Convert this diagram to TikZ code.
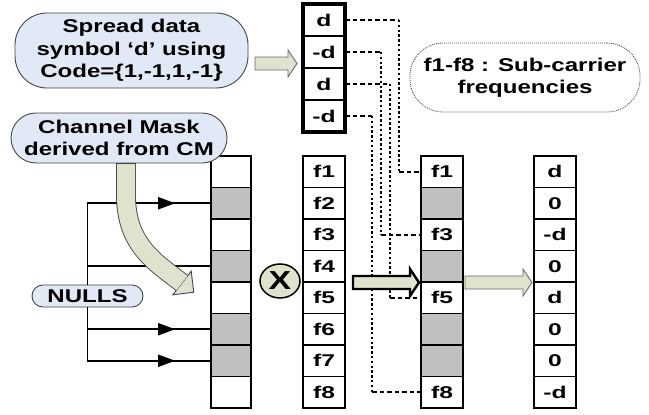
\documentclass[tikz,border=0pt]{standalone}
\usepackage{fontspec}
\setmainfont{Liberation Sans}
\newfontfamily\wf[FakeStretch=1.3]{Liberation Sans}
\newfontfamily\wcf[FakeStretch=1.45]{Liberation Sans}
\usetikzlibrary{arrows.meta,calc,shapes.geometric,decorations.markings}
\definecolor{bub}{RGB}{226,233,246}
\definecolor{oli}{RGB}{221,227,205}
\definecolor{grayc}{RGB}{192,192,192}
\definecolor{bord}{RGB}{70,70,70}
\newcommand\cellf{\wcf\bfseries\fontsize{17}{18}\selectfont}
\newcommand\bubf{\wf\bfseries\fontsize{18.5}{22.5}\selectfont}
\begin{document}
\begin{tikzpicture}[x=1pt,y=-1pt,
  cell/.style={draw, line width=1.8pt, minimum width=42pt, minimum height=31.5pt, inner sep=0pt, outer sep=0pt, anchor=north west, font=\cellf},
  gcell/.style={cell, fill=grayc},
  bubble/.style={draw=bord, line width=0.9pt, fill=bub, align=center, font=\bubf, inner sep=0pt},
  hdash/.style={line width=1.7pt, dash pattern=on 4.5pt off 3pt},
  vdot/.style={line width=2.6pt, dash pattern=on 2.4pt off 2.4pt},
  nline/.style={line width=1.8pt},
  nularrow/.style={nline, postaction={decorate}, decoration={markings, mark=at position 0.71 with {\arrow{Triangle[length=17pt,width=12pt]}}}},
  blockarrow/.style={fill=oli, draw=bord!80, line width=0.9pt, line join=miter},
]
\useasboundingbox[fill=white] (0,0) rectangle (649,415);

% columns
\foreach \i/\s in {1/cell,2/gcell,3/cell,4/gcell,5/cell,6/gcell,7/gcell,8/cell}
  \node[\s, minimum width=40pt] (m\i) at (211,{156+(\i-1)*31.5}) {};
\foreach \i in {1,...,8}
  \node[cell] (f\i) at (303,{156+(\i-1)*31.5}) {f\i};
\foreach \i/\s/\t in {1/cell/f1,2/gcell/{},3/cell/f3,4/gcell/{},5/cell/f5,6/gcell/{},7/gcell/{},8/cell/f8}
  \node[\s] (r\i) at (421,{156+(\i-1)*31.5}) {\t};
\foreach \i/\t in {1/d,2/0,3/-d,4/0,5/d,6/0,7/0,8/-d}
  \node[cell] (o\i) at (534,{156+(\i-1)*31.5}) {\t};
\foreach \i/\t in {1/d,2/-d,3/d,4/-d}
  \node[cell, minimum height=32pt] (c\i) at (303,{4+(\i-1)*32}) {\t};
\draw[line width=3.6pt] (c1.north west) rectangle (c4.south east);

% bubbles
\node[bubble, rounded corners=32pt, minimum width=233pt, minimum height=75pt] (spread) at (131.5,50.5) {Spread data\\symbol ‘d’ using\\Code=\{1,-1,1,-1\}};
\node[bubble, rounded corners=25pt, minimum width=216pt, minimum height=50pt] (mask) at (119,138) {Channel Mask\\derived from CM};
\node[bubble, rounded corners=11pt, minimum width=111pt, minimum height=22pt] (nul) at (87.5,296) {NULLS};
\node[draw=bord, dash pattern=on 1pt off 1pt, line width=0.8pt, rounded corners=33pt, minimum width=230pt, minimum height=69pt, align=center, font=\bubf] (note) at (525,77.5) {f1-f8 : Sub-carrier\\frequencies};

% NULLS lines
\draw[nline, line cap=rect] (nul.north) -- (nul.north |- m2.west);
\draw[nline, line cap=rect] (nul.south) -- (nul.south |- m7.west);
\foreach \i in {2,4,6,7}
  \draw[nularrow] (nul.north |- m\i.west) -- (m\i.west);

% curved arrow from channel mask
\draw[fill=oli, draw=bord, line width=0.9pt, line join=miter] (172.8,294.8) -- (193.8,292.2) -- (191.2,271.2) -- cycle;
\draw[line width=19.8pt, draw=bord] (126,163) -- (126,195) .. controls (126,245) and (155,262) .. (182,283);
\draw[line width=18pt, draw=oli] (126,164) -- (126,195) .. controls (126,245) and (155,262) .. (182,283);

% dashed connectors
\coordinate (x1) at (399,0);
\coordinate (x2) at (381,0);
\coordinate (x3) at (390,0);
\coordinate (x4) at (372,0);
\draw[hdash] (c1.east) -- (c1.east -| x1);
\draw[vdot] (c1.east -| x1) -- (r1.west -| x1);
\draw[hdash] (r1.west -| x1) -- (r1.west);
\draw[hdash] (c2.east) -- (c2.east -| x2);
\draw[vdot] (c2.east -| x2) -- (r3.west -| x2);
\draw[hdash] (r3.west -| x2) -- (r3.west);
\draw[hdash] (c3.east) -- (c3.east -| x3);
\draw[vdot] (c3.east -| x3) -- (r5.west -| x3);
\draw[hdash] (r5.west -| x3) -- (r5.west);
\draw[hdash] (c4.east) -- (c4.east -| x4);
\draw[vdot] (c4.east -| x4) -- (r8.west -| x4);
\draw[hdash] (r8.west -| x4) -- (r8.west);

% multiply sign
\node[draw, ellipse, fill=oli, line width=1.5pt, minimum width=40pt, minimum height=34pt, inner sep=0pt, font=\wf\bfseries\fontsize{26}{26}\selectfont] (mul) at (280,281) {X};

% block arrows
\draw[blockarrow] (255,57) -- (288,57) -- (288,50) -- (297,63.5) -- (288,77) -- (288,70) -- (255,70) -- cycle;
\draw[fill=oli, line width=2.4pt, line join=miter] (353,276) -- (410,276) -- (410,269) -- (419,282.5) -- (410,296) -- (410,289) -- (353,289) -- cycle;
\draw[blockarrow] (465,276) -- (523,276) -- (523,269) -- (532,282.5) -- (523,296) -- (523,289) -- (465,289) -- cycle;
\end{tikzpicture}
\end{document}
